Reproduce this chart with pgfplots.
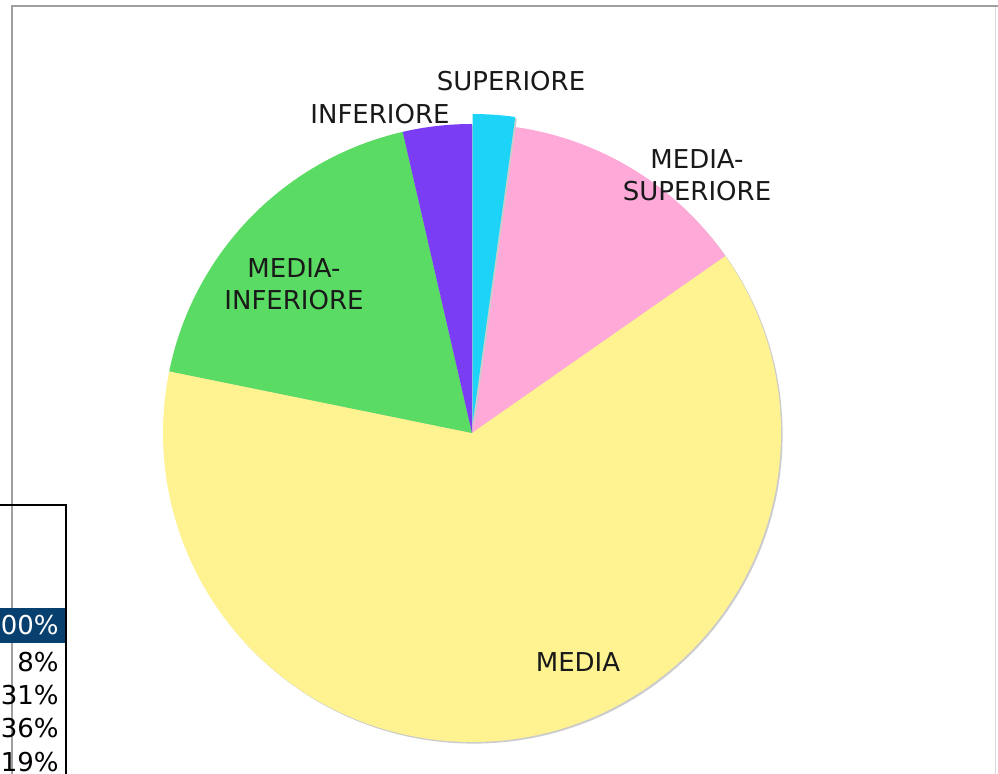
\documentclass[border=0pt]{standalone}
\usepackage{pgfplots}
\pgfplotsset{compat=1.18}
\usepackage{pgfplotstable}
\usepackage{fontspec}
\setmainfont{DejaVu Sans}

\definecolor{cSup}{HTML}{1ED3F8}
\definecolor{cMedSup}{HTML}{FFA9D8}
\definecolor{cMed}{HTML}{FFF291}
\definecolor{cMedInf}{HTML}{5ADB63}
\definecolor{cInf}{HTML}{7A3DF4}
\definecolor{cHead}{HTML}{07406F}

\pgfplotstableread[col sep=comma]{
name,value
SUPERIORE,2.2
MEDIA-SUPERIORE,13.1
MEDIA,62.9
MEDIA-INFERIORE,18.2
INFERIORE,3.6
}\piedata

\pgfplotstablegetelem{0}{value}\of\piedata \let\vA\pgfplotsretval
\pgfplotstablegetelem{1}{value}\of\piedata \let\vB\pgfplotsretval
\pgfplotstablegetelem{2}{value}\of\piedata \let\vC\pgfplotsretval
\pgfplotstablegetelem{3}{value}\of\piedata \let\vD\pgfplotsretval
\pgfplotstablegetelem{4}{value}\of\piedata \let\vE\pgfplotsretval

\pgfmathsetmacro\sA{90}
\pgfmathsetmacro\eA{\sA-\vA*3.6}
\pgfmathsetmacro\mA{(\sA+\eA)/2}
\pgfmathsetmacro\eB{\eA-\vB*3.6}
\pgfmathsetmacro\eC{\eB-\vC*3.6}
\pgfmathsetmacro\eD{\eC-\vD*3.6}
\pgfmathsetmacro\eE{\eD-\vE*3.6}

\def\R{154.5pt}

\begin{document}
\begin{tikzpicture}
\begin{axis}[scale only axis, width=499pt, height=387pt,
  xmin=0, xmax=998, ymin=0, ymax=774, hide axis, clip=false]
% frame
\draw[gray!30, line width=0.5pt] (axis cs:995,-10) -- (axis cs:995,768);
\draw[gray!75, line width=1pt] (axis cs:12,-10) -- (axis cs:12,768) -- (axis cs:1010,768);
% shadow
\fill[gray!40] ([shift={(0.8pt,-0.8pt)}]axis cs:472,341) circle[radius=\R];
% slices
\fill[cMedSup] (axis cs:472,341) -- ++(\eA:\R) arc[start angle=\eA, end angle=\eB, radius=\R] -- cycle;
\fill[cMed] (axis cs:472,341) -- ++(\eB:\R) arc[start angle=\eB, end angle=\eC, radius=\R] -- cycle;
\fill[cMedInf] (axis cs:472,341) -- ++(\eC:\R) arc[start angle=\eC, end angle=\eD, radius=\R] -- cycle;
\fill[cInf] (axis cs:472,341) -- ++(\eD:\R) arc[start angle=\eD, end angle=\eE, radius=\R] -- cycle;
\fill[gray!40] ([shift={(\mA:5pt)},shift={(0.8pt,-0.8pt)}]axis cs:472,341) -- ++(\sA:\R) arc[start angle=\sA, end angle=\eA, radius=\R] -- cycle;
\fill[cSup] ([shift={(\mA:5pt)}]axis cs:472,341) -- ++(\sA:\R) arc[start angle=\sA, end angle=\eA, radius=\R] -- cycle;
% labels
\begin{scope}[every node/.style={font=\fontsize{13}{16}\selectfont, text=black!90, align=center, inner sep=0pt}]
\node at (axis cs:511,693) {SUPERIORE};
\node at (axis cs:380,660) {INFERIORE};
\node at (axis cs:697,599) {MEDIA-\\SUPERIORE};
\node at (axis cs:294,490) {MEDIA-\\INFERIORE};
\node at (axis cs:578,112) {MEDIA};
\end{scope}
% table fragment
\fill[white] (axis cs:-10,-10) rectangle (axis cs:66,269);
\draw[gray!75, line width=1pt] (axis cs:12,-10) -- (axis cs:12,269);
\fill[cHead] (axis cs:-10,131) rectangle (axis cs:65,166);
\draw[black, line width=1pt] (axis cs:-10,269) -- (axis cs:66,269) -- (axis cs:66,-10);
\begin{scope}[every node/.style={font=\fontsize{13}{16}\selectfont, anchor=east, inner sep=0pt}]
\node[text=white] at (axis cs:59,149) {100\%};
\node at (axis cs:59,112) {8\%};
\node at (axis cs:59,79) {31\%};
\node at (axis cs:59,46) {36\%};
\node at (axis cs:59,12) {19\%};
\end{scope}
\end{axis}
\pgfresetboundingbox
\useasboundingbox (0,0) rectangle (499pt,387pt);
\end{tikzpicture}
\end{document}
